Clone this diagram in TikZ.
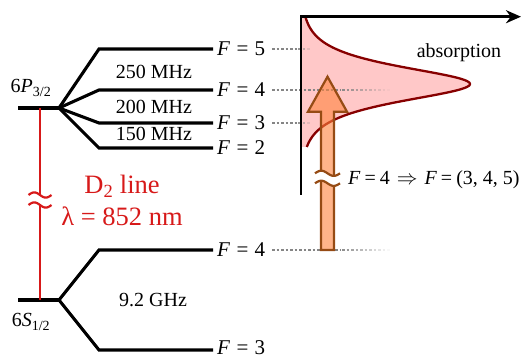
\documentclass[tikz,border=0pt]{standalone}
\usepackage{fontspec}
\setmainfont{Liberation Serif}
\usetikzlibrary{arrows.meta}
\definecolor{dred}{RGB}{215,25,25}
\definecolor{pinkfill}{RGB}{255,200,200}
\definecolor{curvecol}{RGB}{135,0,0}
\definecolor{arrfill}{RGB}{255,130,60}
\definecolor{arrline}{RGB}{150,75,20}
\newcommand\eqs{\hspace{.3em}=\hspace{.3em}}
\begin{document}
\begin{tikzpicture}[x=1pt,y=-1pt,
  lvl/.style={line width=3.1pt, black, line join=miter},
  flabel/.style={font=\fontsize{21}{24}\selectfont, anchor=west, inner sep=0pt},
  freq/.style={font=\fontsize{20}{23}\selectfont, inner sep=0pt},
  redtxt/.style={font=\fontsize{26.5}{30}\selectfont, text=dred, inner sep=0pt},
  dotline/.style={line width=2.4pt, draw=black!48, dash pattern=on 2.5pt off 2pt},
  fdot/.style={line width=2.4pt, draw=black!48},
  tildemark/.style={line width=2.2pt}
]
\useasboundingbox (0,0) rectangle (522,358);

% ---------- absorption profile ----------
\fill[pinkfill] (301,16.7) -- plot[domain=16.7:147, samples=150] ({301+169/cosh((\x-84)/15.5)},\x) -- (301,147) -- cycle;

% ---------- energy levels ----------
\coordinate (p0) at (18,108);
\coordinate (pj) at (59,108);
\coordinate (s0) at (18,300);
\coordinate (sj) at (59,300);
\draw[lvl] (p0) -- (pj);
\draw[lvl] (pj) -- (99,49) -- (213,49);
\draw[lvl] (pj) -- (99,90) -- (213,90);
\draw[lvl] (pj) -- (99,123) -- (213,123);
\draw[lvl] (pj) -- (99,148) -- (213,148);
\draw[lvl] (s0) -- (sj);
\draw[lvl] (sj) -- (99,250) -- (213,250);
\draw[lvl] (sj) -- (99,350) -- (213,350);

\node[flabel] (f5) at (217,49) {\textit{F}\eqs 5};
\node[flabel] (f4u) at (217,90) {\textit{F}\eqs 4};
\node[flabel] (f3u) at (217,123) {\textit{F}\eqs 3};
\node[flabel] (f2u) at (217,148) {\textit{F}\eqs 2};
\node[flabel] (f4l) at (217,250) {\textit{F}\eqs 4};
\node[flabel] (f3l) at (217,348) {\textit{F}\eqs 3};

\node[freq] (m250) at (154,72) {250 MHz};
\node[freq] (m200) at (154,107) {200 MHz};
\node[freq] (m150) at (154,134) {150 MHz};
\node[freq] (g92) at (153,300) {9.2 GHz};

\node[freq] (lp) at (31,88) {6\textit{P}\textsubscript{3/2}};
\node[freq] (ls) at (31,322) {6\textit{S}\textsubscript{1/2}};

% ---------- D2 line ----------
\coordinate (rtop) at (40,108);
\coordinate (rbot) at (40,300);
\draw[dred, line width=2.8pt] (rtop) -- (40,195.5);
\draw[dred, line width=2.8pt] (40,204.5) -- (rbot);
\draw[dred, tildemark] plot[domain=-11.5:11.5, samples=30, smooth] ({40+\x},{195+2.6*sin(\x/23*360)});
\draw[dred, tildemark] plot[domain=-11.5:11.5, samples=30, smooth] ({40+\x},{205+2.6*sin(\x/23*360)});
\node[redtxt] (d2) at (122,186) {D\textsubscript{2} line};
\node[redtxt] (lam) at (122,216) {λ\hspace{.25em}=\hspace{.25em}852 nm};

% ---------- dotted guide lines ----------
\draw[dotline] (272,49) -- (298,49);
\draw[dotline] (272,123) -- (298,123);
\draw[dotline] (272,90) -- (340,90);
\draw[dotline] (272,250) -- (340,250);
\foreach \xx in {298,302.5,307} {
  \pgfmathsetmacro\op{1-(\xx-296)/14}
  \draw[fdot, draw opacity=\op] (\xx,49) -- ++(2.5,0);
  \draw[fdot, draw opacity=\op] (\xx,123) -- ++(2.5,0);
}
\foreach \xx in {342,346.5,...,388} {
  \pgfmathsetmacro\op{1-(\xx-338)/52}
  \draw[fdot, draw opacity=\op] (\xx,90) -- ++(2.5,0);
  \draw[fdot, draw opacity=\op] (\xx,250) -- ++(2.5,0);
}

% ---------- profile outline and axes ----------
\draw[curvecol, line width=2.3pt] plot[domain=16.7:147, samples=150] ({301+169/cosh((\x-84)/15.5)},\x);
\coordinate (axbot) at (301,195);
\coordinate (axorg) at (301,16.7);
\coordinate (axend) at (521,16.7);
\draw[line width=2.9pt, line join=miter, -{Stealth[length=15pt,width=13pt]}] (axbot) -- (axorg) -- (axend);
\node[freq] (abs) at (459,53) {absorption};

% ---------- pump arrow ----------
\draw[arrline, line width=2.2pt, fill=arrfill, fill opacity=0.6, line join=miter]
  (321,250) -- (321,111.7) -- (308,111.7) -- (327.5,76.7) -- (347,111.7) -- (334,111.7) -- (334,250) -- cycle;
\fill[white] plot[domain=-12.5:12.5, samples=30, smooth] ({327.5+\x},{173.3+2.6*sin(\x/25*360)})
  -- plot[domain=12.5:-12.5, samples=30, smooth] ({327.5+\x},{183.3+2.6*sin(\x/25*360)}) -- cycle;
\draw[arrline, tildemark] plot[domain=-12.5:12.5, samples=30, smooth] ({327.5+\x},{173.3+2.6*sin(\x/25*360)});
\draw[arrline, tildemark] plot[domain=-12.5:12.5, samples=30, smooth] ({327.5+\x},{183.3+2.6*sin(\x/25*360)});
\node[freq, anchor=west] (trans) at (348,180) {\textit{F}\hspace{.2em}=\hspace{.2em}4\hspace{.35em}$\Rightarrow$\hspace{.35em}\textit{F}\hspace{.2em}=\hspace{.2em}(3, 4, 5)};
\end{tikzpicture}
\end{document}
